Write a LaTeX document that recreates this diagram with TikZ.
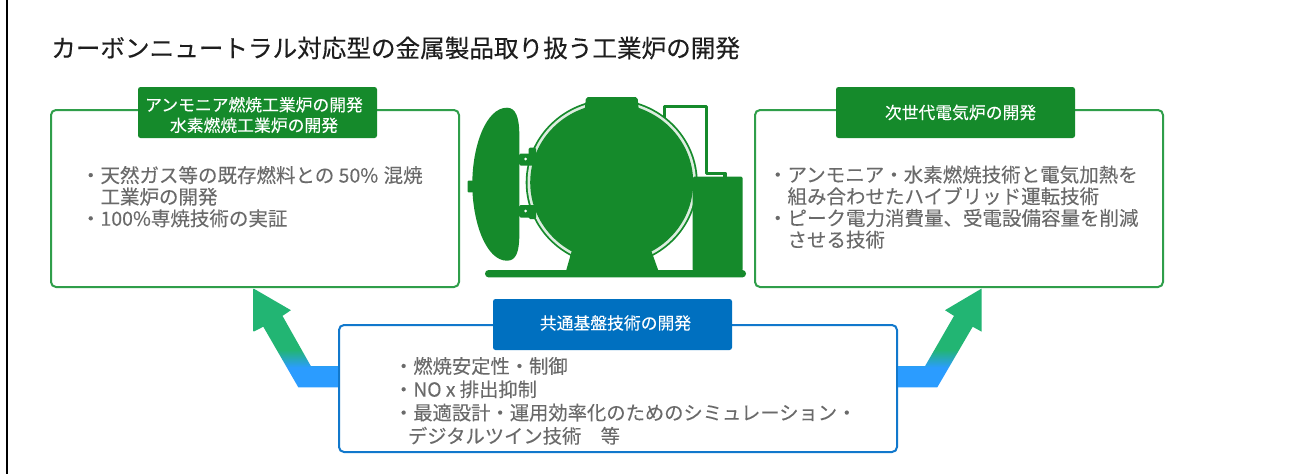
\documentclass[tikz,border=0pt]{standalone}
\usepackage{fontspec}
\setmainfont{Noto Sans CJK JP}
\newfontfamily\headfont[FakeBold=0.25]{Noto Sans CJK JP}
\newfontfamily\bodyfont[FakeBold=0.08]{Noto Sans CJK JP}
\usetikzlibrary{calc}
\definecolor{titleink}{HTML}{1E1E1E}
\definecolor{bodyink}{HTML}{6A6A6A}
\definecolor{furnacegreen}{HTML}{158A2B}
\definecolor{framegreen}{HTML}{2F9E4A}
\definecolor{labelblue}{HTML}{0070C0}
\definecolor{frameblue}{HTML}{1178CC}
\definecolor{flowblue}{HTML}{2B9CFF}
\definecolor{flowgreen}{HTML}{22B573}
\pgfdeclareverticalshading{flowshade}{100bp}{
  color(0bp)=(flowblue); color(35bp)=(flowblue);
  color(44bp)=(flowgreen); color(100bp)=(flowgreen)}
\tikzset{
  panel/.style={draw=#1,line width=2pt,rounded corners=5pt,fill=white,
    anchor=north west,inner sep=0pt,outer sep=0pt},
  tag/.style={fill=#1,rounded corners=2.5pt,anchor=north west,inner sep=0pt,
    outer sep=0pt,minimum width=239pt,minimum height=51pt},
  tagtext/.style={text=white,align=center,inner sep=0pt,outer sep=0pt,
    font=\bodyfont\fontsize{16.8}{20.5}\selectfont},
  bodytext/.style={text=bodyink,anchor=north west,inner sep=0pt,outer sep=0pt,align=left},
  flow/.style={shading=flowshade,draw=none},
  plant/.style={fill=furnacegreen,draw=none},
  pipe/.style={draw=furnacegreen,line width=3.3pt,line join=round,line cap=round}
}
\newcommand{\hang}{\hspace*{1em}}
\begin{document}
\begin{tikzpicture}[x=1pt,y=-1pt]
\useasboundingbox (0,0) rectangle (1289,474);
\fill[white] (0,0) rectangle (1289,474);
\draw[black,line width=2.3pt] (6.8,0) -- (6.8,474);

\node[anchor=west,inner sep=0pt,text=titleink,font=\headfont\fontsize{24.6}{28}\selectfont] (title) at (51,48)
  {カーボンニュートラル対応型の金属製品取り扱う工業炉の開発};

% Three panels
\node[panel=framegreen,minimum width=408pt,minimum height=177pt] (ammonia) at (51,110) {};
\node[panel=framegreen,minimum width=408pt,minimum height=177pt] (electric) at (755,110) {};
\node[panel=frameblue,minimum width=558pt,minimum height=127pt] (common) at (339,325) {};

% Block arrows from the shared panel up to the two upper panels
\shade[flow] ($(ammonia.south west)+(202.5,1.5)$) -- ++(37.4,21.7) -- ++(-8.4,5.7)
  -- ++(28.4,50.3) -- (common.west |- 0,366) -- (common.west |- 0,387.3)
  -- (298.3,387.3) -- (263.3,326.7) -- ($(ammonia.south west)+(202.5,44.7)$) -- cycle;
\shade[flow] ($(electric.south west)+(226.7,1.5)$) -- ++(-36.7,21.7) -- ++(9,5.7)
  -- ++(-29,50.3) -- (common.east |- 0,366) -- (common.east |- 0,387.3)
  -- (937.3,387.3) -- (972.7,326.7) -- ($(electric.south west)+(226.7,44.7)$) -- cycle;
\draw[frameblue,line width=2pt] (common.west |- 0,360) -- (common.west |- 0,392);
\draw[frameblue,line width=2pt] (common.east |- 0,360) -- (common.east |- 0,392);

% Panel headings
\node[tag=furnacegreen] (ammoniatag) at (138,87) {};
\node[tagtext] (ammonialabel) at ($(ammoniatag.center)+(-3.5,2.5)$) {アンモニア燃焼工業炉の開発\\水素燃焼工業炉の開発};
\node[tag=furnacegreen] (electrictag) at (836,87) {};
\node[tagtext] (electriclabel) at ($(electrictag.center)+(5,0)$) {次世代電気炉の開発};
\node[tag=labelblue] (commontag) at (493,299) {};
\node[tagtext] (commonlabel) at ($(commontag.center)+(3,-1.5)$) {共通基盤技術の開発};

% Panel texts
\node[bodytext,font=\bodyfont\fontsize{19.5}{21.6}\selectfont] (ammoniatext) at (81,166)
  {・天然ガス等の既存燃料との 50\% \hspace{1pt}混焼\\\hang 工業炉の開発\\・100\%専焼技術の実証};
\node[bodytext,font=\bodyfont\fontsize{19.5}{21.7}\selectfont] (electrictext) at (768,165.5)
  {・アンモニア・水素燃焼技術と電気加熱を\\\hang 組み合わせたハイブリッド運転技術\\・ピーク電力消費量、受電設備容量を削減\\\hang させる技術};
\node[bodytext,font=\bodyfont\fontsize{19.3}{23.3}\selectfont] (commontext) at (394,357)
  {・燃焼安定性・制御\\・NO x 排出抑制\\・最適設計・運用効率化のためのシミュレーション・\\\hspace*{14pt}デジタルツイン技術　等};

% Furnace: pipework
\draw[pipe] (664.8,118) -- (664.8,106.7) -- (706.7,106.7) -- (706.7,173.3) -- (725,173.3) -- (725,178);
% Furnace: shell with its thin pale jacket, neck and stand
\fill[plant] (611.7,182.5) ellipse[x radius=86,y radius=83.5];
\fill[furnacegreen!15!white] (611.7,182.5) ellipse[x radius=84.2,y radius=81.7];
\fill[plant] (611.7,182.5) ellipse[x radius=81.5,y radius=79];
\fill[plant,rounded corners=2pt] (584.5,112) -- (586,97) -- (637.5,97) -- (639,112) -- (639,125) -- (584.5,125) -- cycle;
\fill[plant] (572,250) -- (651,250) -- (658.5,271) -- (566,271) -- cycle;
% Furnace: control cabinet and floor rail
\fill[plant,rounded corners=1.5pt] (692.7,176.7) rectangle (742.7,271);
\fill[plant,rounded corners=3.6pt] (485,270) rectangle (746,277.4);
% Furnace: open door, handle and hinges
\fill[plant] (507,107.7) .. controls (516,107.7) and (519.3,118) .. (519.3,135)
  -- (519.3,235) .. controls (519.3,252) and (516,260.7) .. (507,260.7)
  .. controls (486,260.7) and (472.3,222) .. (472.3,184)
  .. controls (472.3,146) and (486,107.7) .. (507,107.7) -- cycle;
\fill[plant,rounded corners=1pt] (467.5,180.7) rectangle (474,192.3);
\fill[plant,rounded corners=1.5pt] (519,153.5) rectangle (531,165.5);
\fill[plant,rounded corners=1.5pt] (528.5,147.5) rectangle (536,165.5);
\fill[plant,rounded corners=1.5pt] (519,205) rectangle (531,217.5);
\fill[plant,rounded corners=1.5pt] (528.5,205) rectangle (536,219);
\fill[white] (525.7,159) circle[radius=1.5];
\fill[white] (525.7,211) circle[radius=1.5];
\end{tikzpicture}
\end{document}
